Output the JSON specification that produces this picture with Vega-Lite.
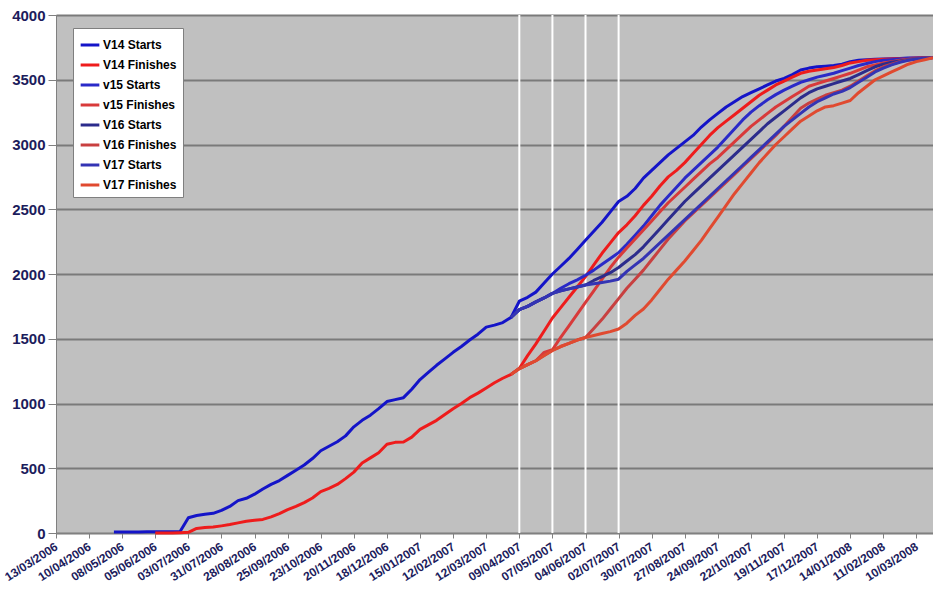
{
  "$schema": "https://vega.github.io/schema/vega-lite/v6.json",
  "width": 877,
  "height": 518,
  "autosize": {"type": "none"},
  "padding": {"left": 56, "top": 15, "right": 0, "bottom": 67},
  "background": "white",
  "config": {
    "view": {"fill": "#C0C0C0", "stroke": "#808080", "strokeWidth": 1},
    "font": "Liberation Sans",
    "axis": {"labelFont": "Liberation Sans", "title": null, "labelOverlap": false},
    "axisX": {"labelOverlap": false, "labelFlush": false}
  },
  "datasets": {
    "cuts": [{"date": "2007-04-09"}, {"date": "2007-05-07"}, {"date": "2007-06-04"}, {"date": "2007-07-02"}],
    "series": [
      {"date": "2006-05-01", "V14 Starts": 8},
      {"date": "2006-05-08", "V14 Starts": 8},
      {"date": "2006-05-15", "V14 Starts": 8},
      {"date": "2006-05-22", "V14 Starts": 8},
      {"date": "2006-05-29", "V14 Starts": 9},
      {"date": "2006-06-05", "V14 Starts": 9, "V14 Finishes": 0},
      {"date": "2006-06-12", "V14 Starts": 10, "V14 Finishes": 0},
      {"date": "2006-06-19", "V14 Starts": 10, "V14 Finishes": 0},
      {"date": "2006-06-26", "V14 Starts": 12, "V14 Finishes": 2},
      {"date": "2006-07-03", "V14 Starts": 118, "V14 Finishes": 5},
      {"date": "2006-07-10", "V14 Starts": 135, "V14 Finishes": 35},
      {"date": "2006-07-17", "V14 Starts": 145, "V14 Finishes": 42},
      {"date": "2006-07-24", "V14 Starts": 152, "V14 Finishes": 46},
      {"date": "2006-07-31", "V14 Starts": 175, "V14 Finishes": 55},
      {"date": "2006-08-07", "V14 Starts": 205, "V14 Finishes": 65},
      {"date": "2006-08-14", "V14 Starts": 250, "V14 Finishes": 78},
      {"date": "2006-08-21", "V14 Starts": 268, "V14 Finishes": 90},
      {"date": "2006-08-28", "V14 Starts": 300, "V14 Finishes": 98},
      {"date": "2006-09-04", "V14 Starts": 340, "V14 Finishes": 105},
      {"date": "2006-09-11", "V14 Starts": 375, "V14 Finishes": 125},
      {"date": "2006-09-18", "V14 Starts": 405, "V14 Finishes": 150},
      {"date": "2006-09-25", "V14 Starts": 445, "V14 Finishes": 180},
      {"date": "2006-10-02", "V14 Starts": 485, "V14 Finishes": 205},
      {"date": "2006-10-09", "V14 Starts": 525, "V14 Finishes": 235},
      {"date": "2006-10-16", "V14 Starts": 575, "V14 Finishes": 270},
      {"date": "2006-10-23", "V14 Starts": 635, "V14 Finishes": 320},
      {"date": "2006-10-30", "V14 Starts": 670, "V14 Finishes": 345},
      {"date": "2006-11-06", "V14 Starts": 705, "V14 Finishes": 375},
      {"date": "2006-11-13", "V14 Starts": 750, "V14 Finishes": 420},
      {"date": "2006-11-20", "V14 Starts": 820, "V14 Finishes": 470},
      {"date": "2006-11-27", "V14 Starts": 870, "V14 Finishes": 540},
      {"date": "2006-12-04", "V14 Starts": 910, "V14 Finishes": 580},
      {"date": "2006-12-11", "V14 Starts": 960, "V14 Finishes": 620},
      {"date": "2006-12-18", "V14 Starts": 1015, "V14 Finishes": 685},
      {"date": "2006-12-25", "V14 Starts": 1030, "V14 Finishes": 700},
      {"date": "2007-01-01", "V14 Starts": 1045, "V14 Finishes": 703},
      {"date": "2007-01-08", "V14 Starts": 1110, "V14 Finishes": 740},
      {"date": "2007-01-15", "V14 Starts": 1185, "V14 Finishes": 800},
      {"date": "2007-01-22", "V14 Starts": 1240, "V14 Finishes": 835},
      {"date": "2007-01-29", "V14 Starts": 1295, "V14 Finishes": 870},
      {"date": "2007-02-05", "V14 Starts": 1345, "V14 Finishes": 915},
      {"date": "2007-02-12", "V14 Starts": 1395, "V14 Finishes": 960},
      {"date": "2007-02-19", "V14 Starts": 1440, "V14 Finishes": 1000},
      {"date": "2007-02-26", "V14 Starts": 1490, "V14 Finishes": 1045},
      {"date": "2007-03-05", "V14 Starts": 1535, "V14 Finishes": 1080},
      {"date": "2007-03-12", "V14 Starts": 1590, "V14 Finishes": 1120},
      {"date": "2007-03-19", "V14 Starts": 1605, "V14 Finishes": 1160},
      {"date": "2007-03-26", "V14 Starts": 1625, "V14 Finishes": 1195},
      {"date": "2007-04-02", "V14 Starts": 1665, "V14 Finishes": 1225, "v15 Starts": 1665, "v15 Finishes": 1225, "V16 Starts": 1665, "V16 Finishes": 1225, "V17 Starts": 1665, "V17 Finishes": 1225},
      {"date": "2007-04-09", "V14 Starts": 1790, "V14 Finishes": 1270, "v15 Starts": 1725, "v15 Finishes": 1270, "V16 Starts": 1725, "V16 Finishes": 1270, "V17 Starts": 1725, "V17 Finishes": 1270},
      {"date": "2007-04-16", "V14 Starts": 1820, "V14 Finishes": 1370, "v15 Starts": 1750, "v15 Finishes": 1300, "V16 Starts": 1750, "V16 Finishes": 1300, "V17 Starts": 1750, "V17 Finishes": 1300},
      {"date": "2007-04-23", "V14 Starts": 1860, "V14 Finishes": 1460, "v15 Starts": 1785, "v15 Finishes": 1330, "V16 Starts": 1785, "V16 Finishes": 1330, "V17 Starts": 1785, "V17 Finishes": 1330},
      {"date": "2007-04-30", "V14 Starts": 1930, "V14 Finishes": 1560, "v15 Starts": 1815, "v15 Finishes": 1395, "V16 Starts": 1815, "V16 Finishes": 1370, "V17 Starts": 1815, "V17 Finishes": 1370},
      {"date": "2007-05-07", "V14 Starts": 2000, "V14 Finishes": 1660, "v15 Starts": 1850, "v15 Finishes": 1415, "V16 Starts": 1850, "V16 Finishes": 1410, "V17 Starts": 1850, "V17 Finishes": 1410},
      {"date": "2007-05-14", "V14 Starts": 2060, "V14 Finishes": 1740, "v15 Starts": 1890, "v15 Finishes": 1510, "V16 Starts": 1870, "V16 Finishes": 1440, "V17 Starts": 1870, "V17 Finishes": 1440},
      {"date": "2007-05-21", "V14 Starts": 2120, "V14 Finishes": 1820, "v15 Starts": 1925, "v15 Finishes": 1600, "V16 Starts": 1885, "V16 Finishes": 1465, "V17 Starts": 1885, "V17 Finishes": 1465},
      {"date": "2007-05-28", "V14 Starts": 2190, "V14 Finishes": 1900, "v15 Starts": 1955, "v15 Finishes": 1690, "V16 Starts": 1900, "V16 Finishes": 1490, "V17 Starts": 1900, "V17 Finishes": 1490},
      {"date": "2007-06-04", "V14 Starts": 2260, "V14 Finishes": 1980, "v15 Starts": 1990, "v15 Finishes": 1780, "V16 Starts": 1915, "V16 Finishes": 1510, "V17 Starts": 1915, "V17 Finishes": 1510},
      {"date": "2007-06-11", "V14 Starts": 2330, "V14 Finishes": 2070, "v15 Starts": 2030, "v15 Finishes": 1870, "V16 Starts": 1950, "V16 Finishes": 1580, "V17 Starts": 1925, "V17 Finishes": 1525},
      {"date": "2007-06-18", "V14 Starts": 2400, "V14 Finishes": 2160, "v15 Starts": 2075, "v15 Finishes": 1960, "V16 Starts": 1980, "V16 Finishes": 1650, "V17 Starts": 1935, "V17 Finishes": 1540},
      {"date": "2007-06-25", "V14 Starts": 2480, "V14 Finishes": 2240, "v15 Starts": 2120, "v15 Finishes": 2050, "V16 Starts": 2010, "V16 Finishes": 1730, "V17 Starts": 1945, "V17 Finishes": 1555},
      {"date": "2007-07-02", "V14 Starts": 2560, "V14 Finishes": 2320, "v15 Starts": 2165, "v15 Finishes": 2130, "V16 Starts": 2050, "V16 Finishes": 1810, "V17 Starts": 1960, "V17 Finishes": 1575},
      {"date": "2007-07-09", "V14 Starts": 2600, "V14 Finishes": 2380, "v15 Starts": 2230, "v15 Finishes": 2200, "V16 Starts": 2100, "V16 Finishes": 1890, "V17 Starts": 2020, "V17 Finishes": 1620},
      {"date": "2007-07-16", "V14 Starts": 2660, "V14 Finishes": 2450, "v15 Starts": 2300, "v15 Finishes": 2270, "V16 Starts": 2150, "V16 Finishes": 1960, "V17 Starts": 2070, "V17 Finishes": 1680},
      {"date": "2007-07-23", "V14 Starts": 2740, "V14 Finishes": 2530, "v15 Starts": 2370, "v15 Finishes": 2340, "V16 Starts": 2210, "V16 Finishes": 2030, "V17 Starts": 2120, "V17 Finishes": 1730},
      {"date": "2007-07-30", "V14 Starts": 2800, "V14 Finishes": 2600, "v15 Starts": 2450, "v15 Finishes": 2410, "V16 Starts": 2280, "V16 Finishes": 2110, "V17 Starts": 2180, "V17 Finishes": 1800},
      {"date": "2007-08-06", "V14 Starts": 2860, "V14 Finishes": 2680, "v15 Starts": 2530, "v15 Finishes": 2480, "V16 Starts": 2350, "V16 Finishes": 2190, "V17 Starts": 2240, "V17 Finishes": 1880},
      {"date": "2007-08-13", "V14 Starts": 2920, "V14 Finishes": 2750, "v15 Starts": 2600, "v15 Finishes": 2550, "V16 Starts": 2420, "V16 Finishes": 2270, "V17 Starts": 2300, "V17 Finishes": 1960},
      {"date": "2007-08-20", "V14 Starts": 2970, "V14 Finishes": 2800, "v15 Starts": 2670, "v15 Finishes": 2610, "V16 Starts": 2490, "V16 Finishes": 2340, "V17 Starts": 2360, "V17 Finishes": 2030},
      {"date": "2007-08-27", "V14 Starts": 3020, "V14 Finishes": 2860, "v15 Starts": 2740, "v15 Finishes": 2670, "V16 Starts": 2560, "V16 Finishes": 2410, "V17 Starts": 2420, "V17 Finishes": 2100},
      {"date": "2007-09-03", "V14 Starts": 3070, "V14 Finishes": 2930, "v15 Starts": 2800, "v15 Finishes": 2730, "V16 Starts": 2620, "V16 Finishes": 2470, "V17 Starts": 2480, "V17 Finishes": 2180},
      {"date": "2007-09-10", "V14 Starts": 3135, "V14 Finishes": 3000, "v15 Starts": 2860, "v15 Finishes": 2790, "V16 Starts": 2680, "V16 Finishes": 2530, "V17 Starts": 2540, "V17 Finishes": 2260},
      {"date": "2007-09-17", "V14 Starts": 3190, "V14 Finishes": 3070, "v15 Starts": 2920, "v15 Finishes": 2850, "V16 Starts": 2740, "V16 Finishes": 2590, "V17 Starts": 2600, "V17 Finishes": 2350},
      {"date": "2007-09-24", "V14 Starts": 3240, "V14 Finishes": 3130, "v15 Starts": 2980, "v15 Finishes": 2900, "V16 Starts": 2800, "V16 Finishes": 2650, "V17 Starts": 2660, "V17 Finishes": 2440},
      {"date": "2007-10-01", "V14 Starts": 3290, "V14 Finishes": 3180, "v15 Starts": 3050, "v15 Finishes": 2960, "V16 Starts": 2860, "V16 Finishes": 2710, "V17 Starts": 2720, "V17 Finishes": 2530},
      {"date": "2007-10-08", "V14 Starts": 3330, "V14 Finishes": 3230, "v15 Starts": 3120, "v15 Finishes": 3020, "V16 Starts": 2920, "V16 Finishes": 2770, "V17 Starts": 2780, "V17 Finishes": 2620},
      {"date": "2007-10-15", "V14 Starts": 3370, "V14 Finishes": 3280, "v15 Starts": 3190, "v15 Finishes": 3080, "V16 Starts": 2980, "V16 Finishes": 2830, "V17 Starts": 2840, "V17 Finishes": 2700},
      {"date": "2007-10-22", "V14 Starts": 3400, "V14 Finishes": 3330, "v15 Starts": 3250, "v15 Finishes": 3140, "V16 Starts": 3040, "V16 Finishes": 2890, "V17 Starts": 2900, "V17 Finishes": 2780},
      {"date": "2007-10-29", "V14 Starts": 3430, "V14 Finishes": 3380, "v15 Starts": 3300, "v15 Finishes": 3190, "V16 Starts": 3100, "V16 Finishes": 2950, "V17 Starts": 2960, "V17 Finishes": 2860},
      {"date": "2007-11-05", "V14 Starts": 3460, "V14 Finishes": 3420, "v15 Starts": 3345, "v15 Finishes": 3240, "V16 Starts": 3160, "V16 Finishes": 3010, "V17 Starts": 3020, "V17 Finishes": 2930},
      {"date": "2007-11-12", "V14 Starts": 3490, "V14 Finishes": 3460, "v15 Starts": 3385, "v15 Finishes": 3290, "V16 Starts": 3210, "V16 Finishes": 3070, "V17 Starts": 3080, "V17 Finishes": 3000},
      {"date": "2007-11-19", "V14 Starts": 3510, "V14 Finishes": 3490, "v15 Starts": 3420, "v15 Finishes": 3330, "V16 Starts": 3260, "V16 Finishes": 3140, "V17 Starts": 3140, "V17 Finishes": 3060},
      {"date": "2007-11-26", "V14 Starts": 3540, "V14 Finishes": 3520, "v15 Starts": 3450, "v15 Finishes": 3370, "V16 Starts": 3310, "V16 Finishes": 3210, "V17 Starts": 3190, "V17 Finishes": 3120},
      {"date": "2007-12-03", "V14 Starts": 3575, "V14 Finishes": 3550, "v15 Starts": 3480, "v15 Finishes": 3410, "V16 Starts": 3360, "V16 Finishes": 3280, "V17 Starts": 3240, "V17 Finishes": 3180},
      {"date": "2007-12-10", "V14 Starts": 3590, "V14 Finishes": 3565, "v15 Starts": 3500, "v15 Finishes": 3450, "V16 Starts": 3400, "V16 Finishes": 3320, "V17 Starts": 3290, "V17 Finishes": 3220},
      {"date": "2007-12-17", "V14 Starts": 3600, "V14 Finishes": 3575, "v15 Starts": 3520, "v15 Finishes": 3470, "V16 Starts": 3430, "V16 Finishes": 3350, "V17 Starts": 3330, "V17 Finishes": 3260},
      {"date": "2007-12-24", "V14 Starts": 3605, "V14 Finishes": 3585, "v15 Starts": 3535, "v15 Finishes": 3490, "V16 Starts": 3450, "V16 Finishes": 3380, "V17 Starts": 3360, "V17 Finishes": 3290},
      {"date": "2007-12-31", "V14 Starts": 3610, "V14 Finishes": 3595, "v15 Starts": 3550, "v15 Finishes": 3510, "V16 Starts": 3470, "V16 Finishes": 3400, "V17 Starts": 3390, "V17 Finishes": 3300},
      {"date": "2008-01-07", "V14 Starts": 3620, "V14 Finishes": 3610, "v15 Starts": 3570, "v15 Finishes": 3530, "V16 Starts": 3490, "V16 Finishes": 3420, "V17 Starts": 3410, "V17 Finishes": 3320},
      {"date": "2008-01-14", "V14 Starts": 3640, "V14 Finishes": 3630, "v15 Starts": 3590, "v15 Finishes": 3550, "V16 Starts": 3510, "V16 Finishes": 3450, "V17 Starts": 3440, "V17 Finishes": 3340},
      {"date": "2008-01-21", "V14 Starts": 3650, "V14 Finishes": 3640, "v15 Starts": 3610, "v15 Finishes": 3575, "V16 Starts": 3540, "V16 Finishes": 3490, "V17 Starts": 3480, "V17 Finishes": 3400},
      {"date": "2008-01-28", "V14 Starts": 3655, "V14 Finishes": 3650, "v15 Starts": 3625, "v15 Finishes": 3600, "V16 Starts": 3570, "V16 Finishes": 3530, "V17 Starts": 3520, "V17 Finishes": 3450},
      {"date": "2008-02-04", "V14 Starts": 3658, "V14 Finishes": 3655, "v15 Starts": 3640, "v15 Finishes": 3615, "V16 Starts": 3600, "V16 Finishes": 3570, "V17 Starts": 3560, "V17 Finishes": 3500},
      {"date": "2008-02-11", "V14 Starts": 3660, "V14 Finishes": 3658, "v15 Starts": 3650, "v15 Finishes": 3630, "V16 Starts": 3620, "V16 Finishes": 3600, "V17 Starts": 3590, "V17 Finishes": 3530},
      {"date": "2008-02-18", "V14 Starts": 3662, "V14 Finishes": 3660, "v15 Starts": 3655, "v15 Finishes": 3640, "V16 Starts": 3635, "V16 Finishes": 3620, "V17 Starts": 3615, "V17 Finishes": 3560},
      {"date": "2008-02-25", "V14 Starts": 3665, "V14 Finishes": 3663, "v15 Starts": 3660, "v15 Finishes": 3650, "V16 Starts": 3645, "V16 Finishes": 3640, "V17 Starts": 3635, "V17 Finishes": 3590},
      {"date": "2008-03-03", "V14 Starts": 3667, "V14 Finishes": 3665, "v15 Starts": 3664, "v15 Finishes": 3658, "V16 Starts": 3655, "V16 Finishes": 3652, "V17 Starts": 3650, "V17 Finishes": 3620},
      {"date": "2008-03-10", "V14 Starts": 3668, "V14 Finishes": 3667, "v15 Starts": 3667, "v15 Finishes": 3664, "V16 Starts": 3662, "V16 Finishes": 3660, "V17 Starts": 3660, "V17 Finishes": 3640},
      {"date": "2008-03-17", "V14 Starts": 3670, "V14 Finishes": 3669, "v15 Starts": 3670, "v15 Finishes": 3668, "V16 Starts": 3667, "V16 Finishes": 3666, "V17 Starts": 3666, "V17 Finishes": 3655},
      {"date": "2008-03-24", "V14 Starts": 3672, "V14 Finishes": 3671, "v15 Starts": 3672, "v15 Finishes": 3671, "V16 Starts": 3671, "V16 Finishes": 3670, "V17 Starts": 3670, "V17 Finishes": 3670}
    ]
  },
  "encoding": {
    "x": {
      "field": "date",
      "type": "temporal",
      "scale": {"type": "utc", "domain": [{"year": 2006, "month": 3, "date": 13, "utc": true}, {"year": 2008, "month": 3, "date": 24, "utc": true}]},
      "axis": {
        "values": [
          {"year": 2006, "month": 3, "date": 13, "utc": true},
          {"year": 2006, "month": 4, "date": 10, "utc": true},
          {"year": 2006, "month": 5, "date": 8, "utc": true},
          {"year": 2006, "month": 6, "date": 5, "utc": true},
          {"year": 2006, "month": 7, "date": 3, "utc": true},
          {"year": 2006, "month": 7, "date": 31, "utc": true},
          {"year": 2006, "month": 8, "date": 28, "utc": true},
          {"year": 2006, "month": 9, "date": 25, "utc": true},
          {"year": 2006, "month": 10, "date": 23, "utc": true},
          {"year": 2006, "month": 11, "date": 20, "utc": true},
          {"year": 2006, "month": 12, "date": 18, "utc": true},
          {"year": 2007, "month": 1, "date": 15, "utc": true},
          {"year": 2007, "month": 2, "date": 12, "utc": true},
          {"year": 2007, "month": 3, "date": 12, "utc": true},
          {"year": 2007, "month": 4, "date": 9, "utc": true},
          {"year": 2007, "month": 5, "date": 7, "utc": true},
          {"year": 2007, "month": 6, "date": 4, "utc": true},
          {"year": 2007, "month": 7, "date": 2, "utc": true},
          {"year": 2007, "month": 7, "date": 30, "utc": true},
          {"year": 2007, "month": 8, "date": 27, "utc": true},
          {"year": 2007, "month": 9, "date": 24, "utc": true},
          {"year": 2007, "month": 10, "date": 22, "utc": true},
          {"year": 2007, "month": 11, "date": 19, "utc": true},
          {"year": 2007, "month": 12, "date": 17, "utc": true},
          {"year": 2008, "month": 1, "date": 14, "utc": true},
          {"year": 2008, "month": 2, "date": 11, "utc": true},
          {"year": 2008, "month": 3, "date": 10, "utc": true}
        ],
        "format": "%d/%m/%Y",
        "grid": false,
        "labelAngle": -33,
        "labelAlign": "right",
        "labelBaseline": "middle",
        "labelFontSize": 12,
        "labelFontWeight": "bold",
        "labelColor": "#1c1c5c",
        "labelPadding": 7,
        "labelOverlap": false,
        "labelFlush": false,
        "labelBound": false,
        "tickSize": 5,
        "tickColor": "#808080",
        "domainColor": "#808080"
      }
    }
  },
  "layer": [
    {
      "data": {"name": "cuts"},
      "mark": {"type": "rule", "color": "#FFFFFF", "strokeWidth": 2}
    },
    {
      "data": {"name": "series"},
      "transform": [
        {"fold": ["V14 Starts", "V14 Finishes", "v15 Starts", "v15 Finishes", "V16 Starts", "V16 Finishes", "V17 Starts", "V17 Finishes"], "as": ["series", "value"]},
        {"filter": "isValid(datum.value)"}
      ],
      "mark": {"type": "line", "strokeJoin": "round"},
      "encoding": {
        "y": {
          "field": "value",
          "type": "quantitative",
          "scale": {"domain": [0, 4000], "nice": false},
          "axis": {
            "values": [0, 500, 1000, 1500, 2000, 2500, 3000, 3500, 4000],
            "format": "d",
            "grid": true,
            "gridColor": "#7a7a7a",
            "gridWidth": 2,
            "labelFontSize": 15,
            "labelFontWeight": "bold",
            "labelColor": "#1c1c5c",
            "labelPadding": 3,
            "tickSize": 8,
            "tickColor": "#808080",
            "domainColor": "#808080"
          }
        },
        "color": {
          "field": "series",
          "type": "nominal",
          "scale": {
            "domain": ["V14 Starts", "V14 Finishes", "v15 Starts", "v15 Finishes", "V16 Starts", "V16 Finishes", "V17 Starts", "V17 Finishes"],
            "range": ["#1414c8", "#ee1c1c", "#2a2ac8", "#d83a3a", "#2c2c8c", "#c84040", "#3434b4", "#e04a30"]
          },
          "legend": {
            "title": null,
            "orient": "none",
            "legendX": 17,
            "legendY": 13,
            "fillColor": "#FFFFFF",
            "strokeColor": "#7f7f7f",
            "padding": 6,
            "symbolType": "stroke",
            "symbolSize": 350,
            "symbolStrokeWidth": 1.2,
            "labelFont": "Liberation Sans",
            "labelFontSize": 12,
            "labelFontWeight": "bold",
            "labelColor": "#000000",
            "labelOffset": 2,
            "labelLimit": 200,
            "rowPadding": 3,
            "encode": {
              "symbols": {
                "update": {
                  "strokeWidth": {"signal": "(datum.label === 'V14 Starts' || datum.label === 'V14 Finishes') ? 3 : 1.2"}
                }
              }
            }
          }
        },
        "strokeWidth": {
          "field": "series",
          "type": "nominal",
          "scale": {
            "domain": ["V14 Starts", "V14 Finishes", "v15 Starts", "v15 Finishes", "V16 Starts", "V16 Finishes", "V17 Starts", "V17 Finishes"],
            "range": [3, 3, 1.1, 1.1, 1.1, 1.1, 1.1, 1.1]
          },
          "legend": null
        }
      }
    }
  ]
}
